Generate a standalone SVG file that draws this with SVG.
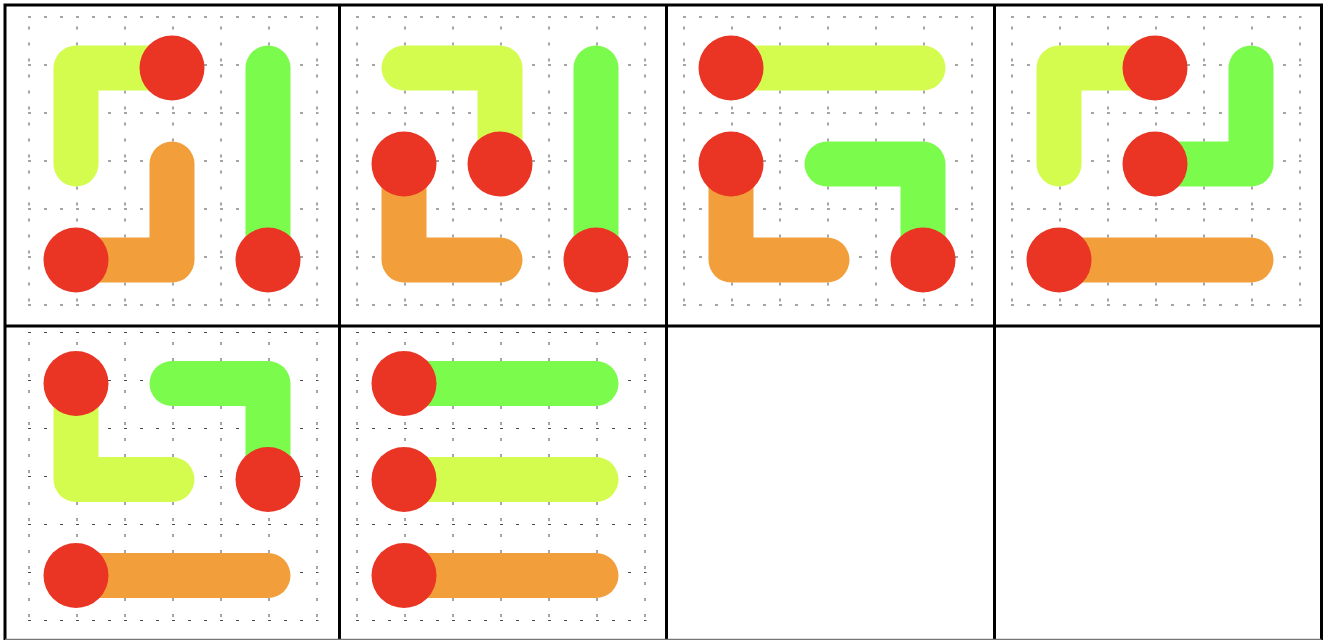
<svg xmlns="http://www.w3.org/2000/svg" xmlns:xlink="http://www.w3.org/1999/xlink" width="1328" height="640" viewBox="0 0 1328 640">
<style>
.gh{stroke:#4a4a4a;stroke-width:1;stroke-dasharray:3 13;fill:none}
.gv{stroke:#4a4a4a;stroke-width:1;stroke-dasharray:3 13;stroke-dashoffset:6;fill:none}
.ln{fill:none;stroke-width:45;stroke-linecap:round;stroke-linejoin:round}
.y{stroke:#D4FC4F}
.g{stroke:#7BFB4C}
.o{stroke:#F29E3A}
.dot{fill:#EA3424}
.bd{stroke:#000;stroke-width:3;fill:none}
</style>
<defs>
<g id="grid">
<path class="gh" d="M-0.5 0.5H290M-0.5 48.5H290M-0.5 96.5H290M-0.5 144.5H290M-0.5 192.5H290M-0.5 240.5H290M-0.5 288.5H290"/>
<path class="gv" d="M0.5 0V289M48.5 0V289M96.5 0V289M144.5 0V289M192.5 0V289M240.5 0V289M288.5 0V289"/>
</g>
</defs>
<rect width="1328" height="640" fill="#fff"/>
<g id="cell-1">
<use xlink:href="#grid" href="#grid" x="28.5" y="16.5"/>
<path class="ln y" d="M76 164V68H172"/>
<path class="ln o" d="M172 164V260H76"/>
<path class="ln g" d="M268 68V260"/>
<circle class="dot" cx="172" cy="68" r="32.5"/>
<circle class="dot" cx="76" cy="260" r="32.5"/>
<circle class="dot" cx="268" cy="260" r="32.5"/>
</g>
<g id="cell-2">
<use xlink:href="#grid" href="#grid" x="356.5" y="16.5"/>
<path class="ln y" d="M404 68H500V164"/>
<path class="ln o" d="M404 164V260H500"/>
<path class="ln g" d="M596 68V260"/>
<circle class="dot" cx="404" cy="164" r="32.5"/>
<circle class="dot" cx="500" cy="164" r="32.5"/>
<circle class="dot" cx="596" cy="260" r="32.5"/>
</g>
<g id="cell-3">
<use xlink:href="#grid" href="#grid" x="683.5" y="16.5"/>
<path class="ln y" d="M731 68H923"/>
<path class="ln g" d="M827 164H923V260"/>
<path class="ln o" d="M731 164V260H827"/>
<circle class="dot" cx="731" cy="68" r="32.5"/>
<circle class="dot" cx="731" cy="164" r="32.5"/>
<circle class="dot" cx="923" cy="260" r="32.5"/>
</g>
<g id="cell-4">
<use xlink:href="#grid" href="#grid" x="1011.5" y="16.5"/>
<path class="ln y" d="M1059 164V68H1155"/>
<path class="ln g" d="M1155 164H1251V68"/>
<path class="ln o" d="M1059 260H1251"/>
<circle class="dot" cx="1155" cy="68" r="32.5"/>
<circle class="dot" cx="1155" cy="164" r="32.5"/>
<circle class="dot" cx="1059" cy="260" r="32.5"/>
</g>
<g id="cell-5">
<use xlink:href="#grid" href="#grid" x="28.5" y="332"/>
<path class="ln y" d="M76 383.5V479.5H172"/>
<path class="ln g" d="M172 383.5H268V479.5"/>
<path class="ln o" d="M76 575.5H268"/>
<circle class="dot" cx="76" cy="383.5" r="32.5"/>
<circle class="dot" cx="268" cy="479.5" r="32.5"/>
<circle class="dot" cx="76" cy="575.5" r="32.5"/>
</g>
<g id="cell-6">
<use xlink:href="#grid" href="#grid" x="356.5" y="332"/>
<path class="ln g" d="M404 383.5H596"/>
<path class="ln y" d="M404 479.5H596"/>
<path class="ln o" d="M404 575.5H596"/>
<circle class="dot" cx="404" cy="383.5" r="32.5"/>
<circle class="dot" cx="404" cy="479.5" r="32.5"/>
<circle class="dot" cx="404" cy="575.5" r="32.5"/>
</g>
<g id="cell-7"></g>
<g id="cell-8"></g>
<g id="borders">
<path class="bd" d="M5 5H1321.5M5 326H1321.5M5 3.5V640M339.5 3.5V640M666.5 3.5V640M994.5 3.5V640M1321.5 3.5V640"/>
<path d="M5 639.5H1321.5" stroke="#777" stroke-width="1.5" fill="none"/>
</g>
</svg>
